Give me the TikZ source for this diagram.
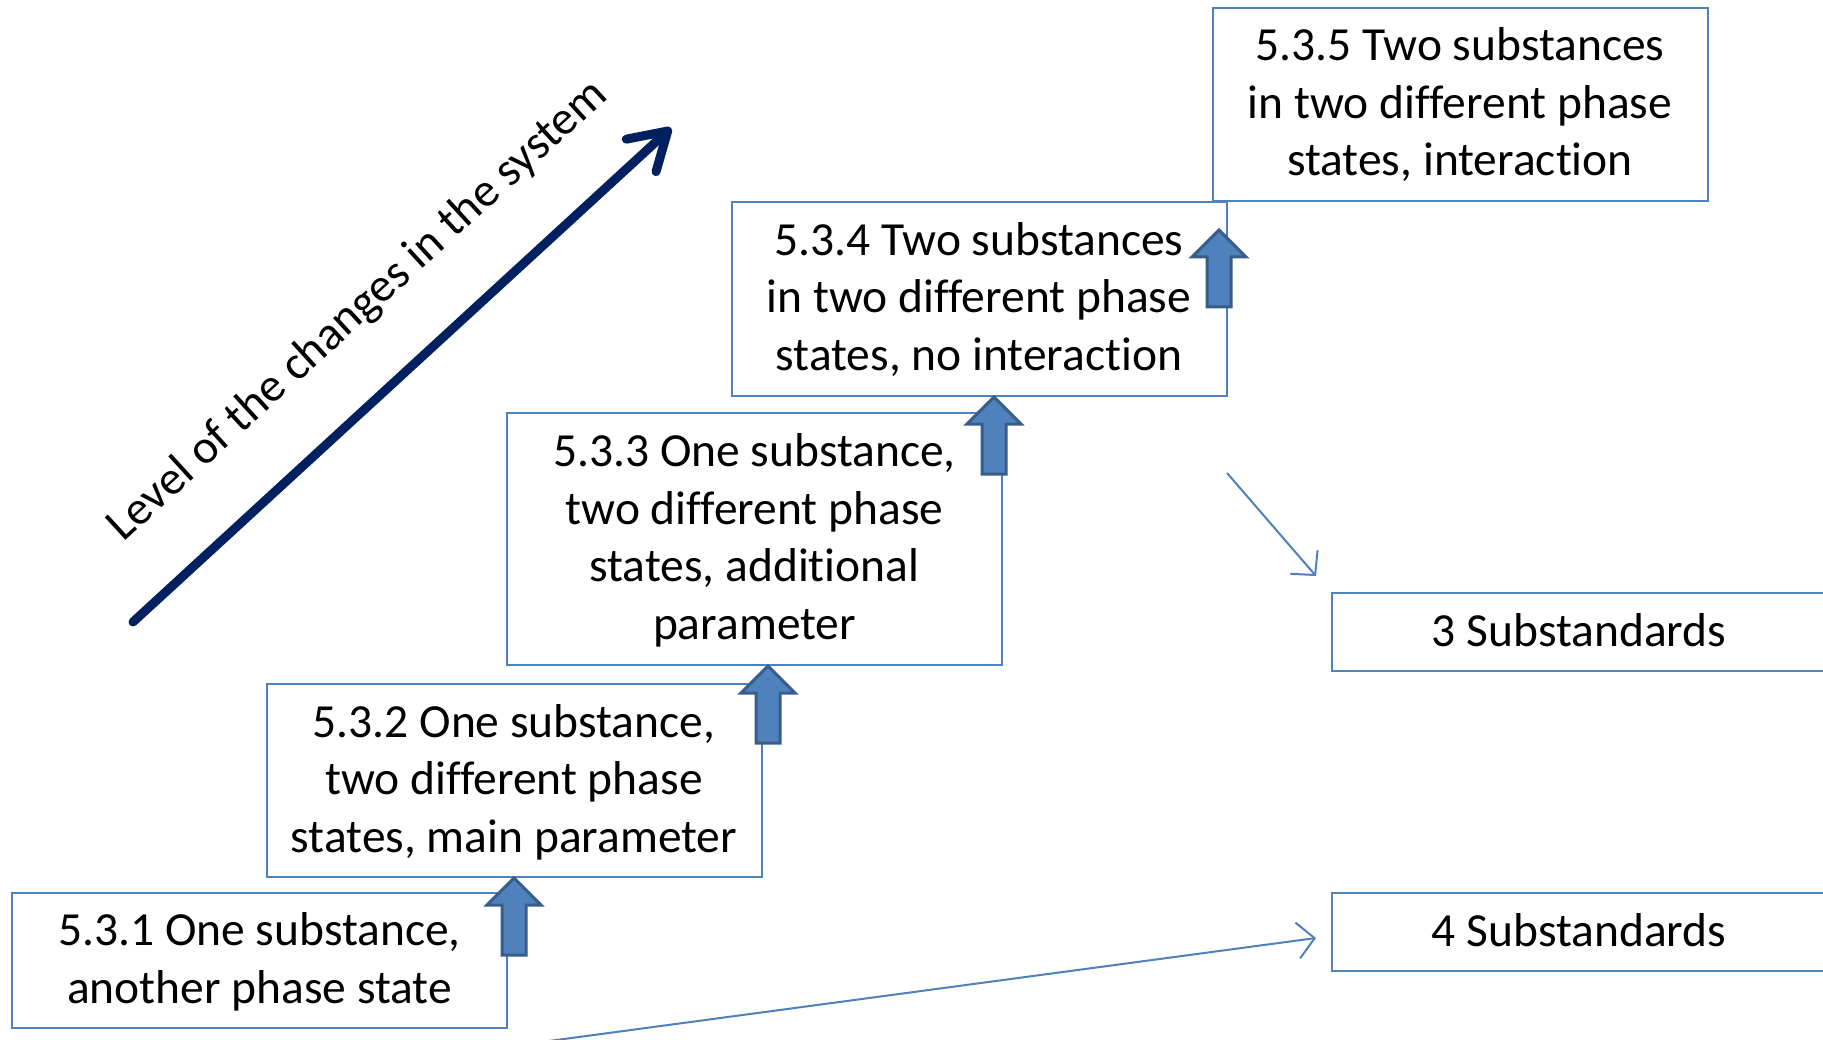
\documentclass[tikz,border=0pt]{standalone}
\usepackage{fontspec}
\setmainfont{Carlito}[RawFeature={-liga;-clig;-dlig;-calt}]
\usetikzlibrary{arrows.meta}
\definecolor{boxblue}{HTML}{4F81BD}
\definecolor{arrowedge}{HTML}{385D8A}
\definecolor{navyblue}{HTML}{002060}
\newcommand{\boxtext}[1]{\raisebox{-2.5pt}[\height][\depth]{\begin{tabular}{@{}c@{}}#1\end{tabular}}}
\begin{document}
\begin{tikzpicture}[x=1pt,y=-1pt,
  txt/.style={font=\fontsize{47.5}{57.5}\selectfont},
  stepbox/.style={txt, draw=boxblue, line width=2pt, fill=white, inner sep=0pt, minimum width=495pt},
  upar/.style={fill=boxblue, draw=arrowedge, line width=3pt, line join=miter},
  thinarrow/.style={draw=boxblue, line width=2pt, -{Straight Barb[length=17pt,width=36pt]}},
  uparrow/.pic={\filldraw[upar] (0,0) -- (27,27) -- (12,27) -- (12,77) -- (-12,77) -- (-12,27) -- (-27,27) -- cycle;},
]
\useasboundingbox (0,0) rectangle (1823,1040);
\fill[white] (0,0) rectangle (1823,1040);

% boxes
\node[stepbox, minimum height=135pt] (b1) at (259.5,960.5) {\boxtext{5.3.1 One substance,\\another phase state}};
\node[stepbox, minimum height=193pt] (b2) at (514,780.5) {\boxtext{5.3.2 One substance,\\two different phase\\states, main parameter}};
\node[stepbox, minimum height=252pt] (b3) at (754.5,539) {\boxtext{5.3.3 One substance,\\two different phase\\states, additional\\parameter}};
\node[stepbox, minimum height=194pt] (b4) at (979,299) {\boxtext{5.3.4 Two substances\\in two different phase\\states, no interaction}};
\node[stepbox, minimum height=193pt] (b5) at (1460,104.5) {\boxtext{5.3.5 Two substances\\in two different phase\\states, interaction}};
\node[stepbox, minimum height=78pt] (s3) at (1579,632) {\boxtext{3 Substandards}};
\node[stepbox, minimum height=78pt] (s4) at (1579,932) {\boxtext{4 Substandards}};

% block up arrows
\pic at (b2.south) {uparrow};
\pic at (b3.south -| 768,0) {uparrow};
\pic at (b4.south -| 994,0) {uparrow};
\coordinate (a4tip) at (1219,230);
\pic at (a4tip) {uparrow};

% big arrow with label
\coordinate (bigstart) at (133,622);
\coordinate (bigend) at (671,128);
\draw[navyblue, line width=9pt, line cap=round,
  -{Straight Barb[length=36pt,width=44pt,line cap=round,line join=round]}] (bigstart) -- (bigend);
\node[txt, rotate=42.5] (lbl) at (358,311) {Level of the changes in the system};

% thin arrows
\coordinate (t1s) at (1227,473);
\coordinate (t1e) at (1316,576);
\draw[thinarrow] (t1s) -- (t1e);
\coordinate (t2s) at (549,1041);
\coordinate (t2e) at (1316,938);
\draw[thinarrow] (t2s) -- (t2e);
\end{tikzpicture}
\end{document}
